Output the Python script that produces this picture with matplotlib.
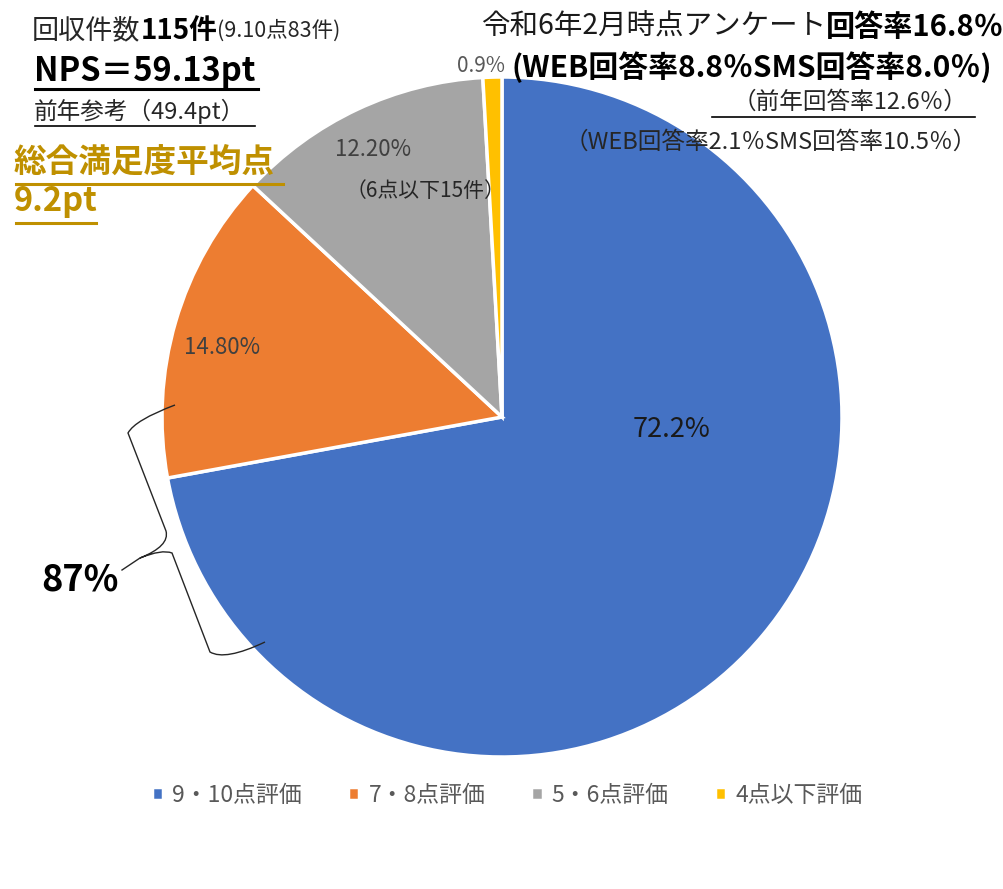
import matplotlib
matplotlib.use('Agg')
import matplotlib.pyplot as plt
from matplotlib.path import Path
from matplotlib.patches import PathPatch

plt.rcParams['font.family'] = ['Noto Sans CJK JP', 'DejaVu Sans']

# data
categories = ['9・10点評価', '7・8点評価', '5・6点評価', '4点以下評価']
shares = [72.2, 14.8, 12.2, 0.9]
pct_labels = ['72.2%', '14.80%', '12.20%', '0.9%']
colors = ['#4472C4', '#ED7D31', '#A5A5A5', '#FFC000']

W, H = 1004, 889
fig = plt.figure(figsize=(W / 100, H / 100), dpi=100)
renderer = fig.canvas.get_renderer()


def px(x, y):
    return x / W, 1 - y / H


def runs(x, y, parts):
    """put several text pieces one after another on one line (pixel coords)"""
    for txt, size, weight, color in parts:
        t = fig.text(*px(x, y), txt, fontsize=size, fontweight=weight,
                     color=color, ha='left', va='center')
        bb = t.get_window_extent(renderer)
        x += bb.width
    return x


def hline(x0, x1, y, color='black', lw=1.5):
    fig.add_artist(plt.Line2D([x0 / W, x1 / W], [1 - y / H, 1 - y / H],
                              color=color, lw=lw))


# pie
r = 340
cx, cy = 502, 417
ax = fig.add_axes([(cx - r) / W, 1 - (cy + r) / H, 2 * r / W, 2 * r / H])
wedges, _ = ax.pie(shares, colors=colors, startangle=90, counterclock=False,
                   wedgeprops=dict(edgecolor='white', linewidth=2.5))
ax.set_xlim(-1, 1)
ax.set_ylim(-1, 1)
ax.set_aspect('auto')

label_pos = [(672, 430), (222, 348), (373, 150), (481, 66)]
label_col = ['#1a1a1a', '#404040', '#404040', '#595959']
label_size = [19.5, 16, 16, 15]
for lab, (x, y), c, s in zip(pct_labels, label_pos, label_col, label_size):
    fig.text(*px(x, y), lab, fontsize=s, color=c, ha='center', va='center')
fig.text(*px(425, 191), '（6点以下15件）', fontsize=15, color='#262626',
         ha='center', va='center')

# legend
fig.legend(wedges, categories, loc='center', bbox_to_anchor=px(507, 795),
           ncol=4, frameon=False, fontsize=16.5, labelcolor='#595959',
           handlelength=0.5, handleheight=0.5, handletextpad=0.4,
           columnspacing=2.0)

# left-top notes
runs(32, 31, [('回収件数', 19.5, 'normal', '#262626'),
              ('115件', 20, 'bold', 'black'),
              ('(9.10点83件)', 15.5, 'normal', '#262626')])
runs(34, 71, [('NPS＝59.13pt', 23.5, 'bold', 'black')])
hline(35, 258, 89, lw=2.2)
runs(34, 111, [('前年参考（49.4pt）', 17, 'normal', '#262626')])
hline(35, 255, 126, lw=1.2)
gold = '#BF9000'
runs(14, 162, [('総合満足度平均点', 23.5, 'bold', gold)])
hline(16, 283, 184, color=gold, lw=2.2)
runs(14, 201, [('9.2pt', 23.5, 'bold', gold)])
hline(16, 96, 223, color=gold, lw=2.2)

# right-top notes
runs(481, 27, [('令和6年2月時点アンケート', 20.5, 'normal', '#1a1a1a'),
               ('回答率16.8％', 21, 'bold', 'black')])
runs(512, 67, [('(WEB回答率8.8％SMS回答率8.0％)', 21.5, 'bold', 'black')])
runs(733, 102, [('（前年回答率12.6％）', 17, 'normal', '#262626')])
hline(712, 975, 117, lw=1.2)
runs(565, 142, [('（WEB回答率2.1％SMS回答率10.5％）', 17, 'normal', '#262626')])

# brace with 87% label
ov = fig.add_axes([0, 0, 1, 1])
ov.set_xlim(0, W)
ov.set_ylim(H, 0)
ov.axis('off')
ov.patch.set_visible(False)
verts = [(175, 405), (135, 420), (128, 433),
         (166, 531),
         (170, 546), (140, 558),
         (162, 549), (172, 553),
         (210, 652),
         (225, 661), (265, 642)]
codes = [Path.MOVETO, Path.CURVE3, Path.CURVE3,
         Path.LINETO,
         Path.CURVE3, Path.CURVE3,
         Path.CURVE3, Path.CURVE3,
         Path.LINETO,
         Path.CURVE3, Path.CURVE3]
ov.add_patch(PathPatch(Path(verts, codes), fill=False, lw=1, ec='#262626'))
ov.plot([140, 122], [558, 570], color='#262626', lw=1)
fig.text(*px(80, 580), '87%', fontsize=26, fontweight='bold', color='black',
         ha='center', va='center')

fig.savefig('out.png', dpi=100)
